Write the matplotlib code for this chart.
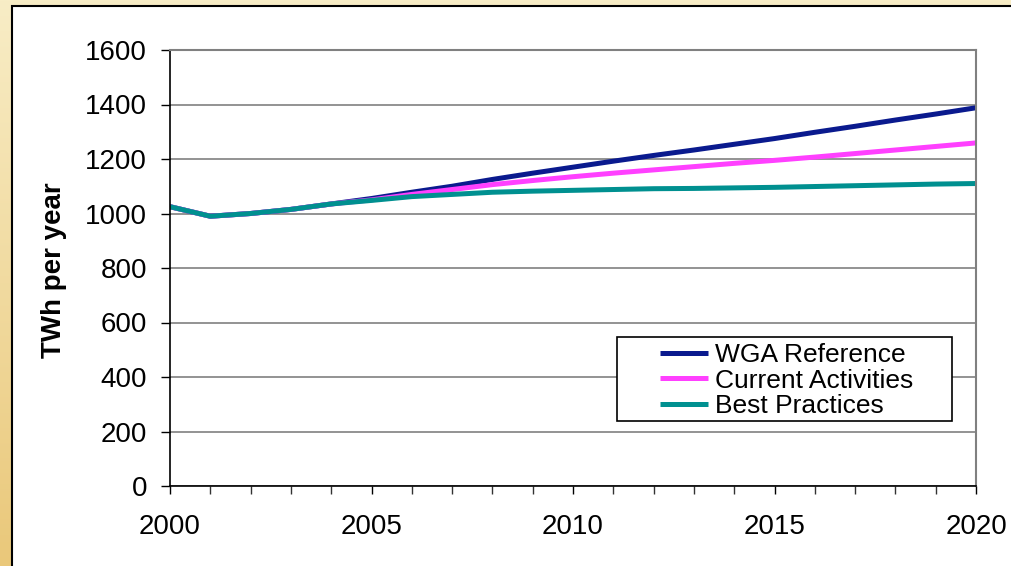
import numpy as np
import matplotlib
matplotlib.use("Agg")
import matplotlib.pyplot as plt
from matplotlib.patches import Rectangle

years = list(range(2000, 2021))
wga_reference = [1025, 990, 1000, 1015, 1035, 1055, 1078, 1100, 1125, 1148, 1170,
                 1192, 1213, 1233, 1254, 1275, 1298, 1320, 1343, 1365, 1388]
current_activities = [1025, 990, 1000, 1015, 1035, 1050, 1070, 1088, 1106, 1121, 1135,
                      1148, 1160, 1172, 1184, 1195, 1207, 1220, 1233, 1246, 1259]
best_practices = [1025, 990, 1000, 1015, 1035, 1048, 1062, 1070, 1078, 1082, 1085,
                  1088, 1091, 1092, 1094, 1096, 1099, 1102, 1105, 1108, 1110]
series_labels = ["WGA Reference", "Current Activities", "Best Practices"]
y_ticks = [0, 200, 400, 600, 800, 1000, 1200, 1400, 1600]
x_major = [2000, 2005, 2010, 2015, 2020]

plt.rcParams['font.family'] = ['Liberation Sans', 'DejaVu Sans']

W, H = 1012, 566
fig = plt.figure(figsize=(W / 100, H / 100), dpi=100)

# background gradient frame
bg = fig.add_axes([0, 0, 1, 1], zorder=-10)
bg.set_axis_off()
top = np.array([248, 237, 198]) / 255.0
bot = np.array([234, 200, 122]) / 255.0
t = np.linspace(0, 1, 256)[:, None]
grad = (top[None, :] * (1 - t) + bot[None, :] * t)[:, None, :]
bg.imshow(grad, aspect='auto', extent=[0, 1, 0, 1], origin='upper')
bg.set_xlim(0, 1)
bg.set_ylim(0, 1)
bg.add_patch(Rectangle((12 / W, -0.05), 1.2, 1.05 - 6 / H, facecolor='white',
                       edgecolor='black', linewidth=1.5, transform=bg.transAxes))

left, right, topp, bottom = 170, 976, 50, 486
ax = fig.add_axes([left / W, 1 - bottom / H, (right - left) / W, (bottom - topp) / H])

colors = ['#0A1A8E', '#FF40FF', '#009090']
for vals, lab, c in zip([wga_reference, current_activities, best_practices], series_labels, colors):
    ax.plot(years, vals, color=c, linewidth=3.6, label=lab, solid_capstyle='butt')

ax.set_xlim(2000, 2020)
ax.set_ylim(0, 1600)
ax.set_yticks(y_ticks)
ax.set_xticks(x_major)
ax.set_xticks(years, minor=True)
ax.yaxis.grid(True, color='#808080', linewidth=1.2)
ax.set_axisbelow(True)
ax.tick_params(axis='y', direction='out', length=6.5, width=1, pad=10, labelsize=20, colors='black')
ax.tick_params(axis='x', which='both', direction='out', length=6, width=1, pad=14, labelsize=20)
ax.tick_params(axis='x', which='minor', color='#333333')
for s in ['left', 'bottom']:
    ax.spines[s].set_color('black')
    ax.spines[s].set_linewidth(1.2)
for s in ['top', 'right']:
    ax.spines[s].set_color('#808080')
    ax.spines[s].set_linewidth(1.5)
ax.set_ylabel('TWh per year', fontsize=20, fontweight='bold')
ax.yaxis.set_label_coords(-0.128, 0.495)

# legend box
fig.add_artist(Rectangle((617 / W, 1 - 421 / H), (952 - 617) / W, (421 - 337) / H,
                         facecolor='white', edgecolor='black', linewidth=1.2,
                         transform=fig.transFigure, zorder=50))

leg = fig.legend(*ax.get_legend_handles_labels(), loc='upper left',
                 bbox_to_anchor=(660 / W, 1 - 343 / H),
                 fontsize=19, frameon=False, borderpad=0, labelspacing=0.06,
                 handlelength=1.82, handletextpad=0.27, borderaxespad=0)
leg.set_zorder(60)

fig.savefig('out.png', dpi=100)
